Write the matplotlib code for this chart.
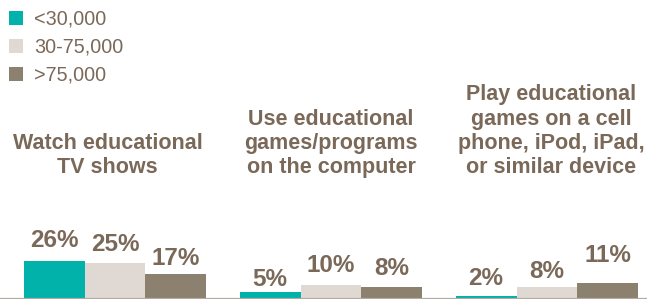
import matplotlib.pyplot as plt
import numpy as np

# Datos
categorias = ['Watch educational\nTV shows',
              'Use educational\ngames/programs\non the computer',
              'Play educational\ngames on a cell\nphone, iPod, iPad,\nor similar device']
series = ['<30,000', '30-75,000', '>75,000']
bajo = [26, 5, 2]
medio = [25, 10, 8]
alto = [17, 8, 11]

colores = ['#00b2a9', '#e0d8d2', '#8c806f']
color_texto = '#7a6958'

# separacion (px) entre la barra y su etiqueta, como en el original
sep_etiquetas = [[14, 6, 11], [12, 12.5, 9.5], [9, 12, 21]]

plt.rcParams['font.family'] = ['Liberation Sans', 'DejaVu Sans']

fig = plt.figure(figsize=(6.47, 3.02), dpi=100)
ax = fig.add_axes([0, 3 / 302, 1, 299 / 302])

x = np.arange(len(categorias))
ancho = 0.282
valores = [bajo, medio, alto]
for i, (vals, nombre) in enumerate(zip(valores, series)):
    pos = x + (i - 1) * ancho
    ax.bar(pos, vals, width=ancho, color=colores[i], label=nombre)
    for p, v, s in zip(pos, vals, sep_etiquetas[i]):
        ax.annotate(f'{v}%', (p, v), xytext=(0, s * 0.72), textcoords='offset points',
                    ha='center', va='baseline', fontsize=17.5,
                    fontweight='bold', color=color_texto)

# Etiquetas de categoria (ligeramente desplazadas como en el original)
desplaz = [-0.035, 0.0, 0.02]
for xi, d, cat in zip(x, desplaz, categorias):
    ax.text(xi + d, 0.405, cat, transform=ax.get_xaxis_transform(), ha='center',
            va='bottom', fontsize=15.5, fontweight='bold', color=color_texto,
            linespacing=1.2)

ax.set_xlim(-115 / 216, (647 - 115) / 216)
ax.set_ylim(0, 299 / 1.45)
ax.axhline(0, color='#b3aaa1', lw=1.6)
for s in ax.spines.values():
    s.set_visible(False)
ax.set_xticks([])
ax.set_yticks([])
ax.patch.set_alpha(0)

leg = fig.legend(loc='upper left', bbox_to_anchor=(-0.008, 1.013), frameon=False,
                 fontsize=14.2, handlelength=0.75, handleheight=0.75,
                 handletextpad=0.55, labelspacing=0.45, borderaxespad=0.3)
for t in leg.get_texts():
    t.set_color(color_texto)

fig.savefig('out.png', dpi=100)
